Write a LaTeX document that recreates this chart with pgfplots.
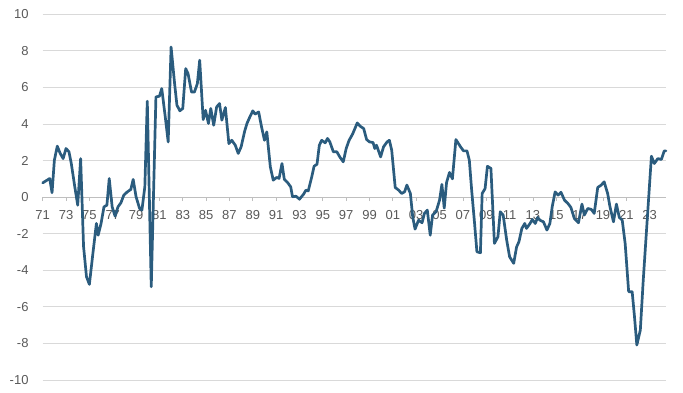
\documentclass[border=0pt]{standalone}
\usepackage{pgfplots}
\pgfplotsset{compat=1.18}
\usepackage{fontspec}
\setmainfont{Liberation Sans}
\definecolor{linec}{HTML}{2B5C7E}
\definecolor{gridc}{HTML}{D9D9D9}
\definecolor{axisc}{HTML}{BFBFBF}
\definecolor{labc}{HTML}{595959}
\begin{document}
\begin{tikzpicture}
\path (0,0) rectangle (683pt,393pt);
\begin{axis}[
  at={(42.7pt,13pt)}, anchor=south west,
  scale only axis, width=623.3pt, height=365.7pt,
  set layers,
  xmin=1971, xmax=2024.4, ymin=-10, ymax=10,
  axis x line=middle, axis y line=left,
  hide obscured x ticks=false,
  axis line style={-},
  x axis line style={draw=axisc, line width=0.8pt},
  y axis line style={draw=none},
  ytick={-10,-8,...,10},
  ymajorgrids, grid style={gridc, line width=0.8pt},
  ytick style={draw=none},
  xtick={1971,1973,...,2023},
  xticklabels={71,73,75,77,79,81,83,85,87,89,91,93,95,97,99,01,03,05,07,09,11,13,15,17,19,21,23},
  xtick style={draw=axisc, line width=0.8pt},
  xtick align=outside, major tick length=4pt,
  tick label style={font=\fontsize{13}{15}\selectfont, text=labc},
  xticklabel style={anchor=north, yshift=-6pt},
  yticklabel style={anchor=east, inner sep=0pt, xshift=-12pt},
  /pgf/number format/assume math mode=true,
  clip=false,
]
\addplot[color=linec, line width=2.7pt, line join=round, line cap=round] coordinates {
(1971.0,0.78)(1971.3,0.90)(1971.6,1.02)(1971.8,0.24)(1972.0,2.02)(1972.25,2.79)
(1972.5,2.39)(1972.75,2.11)(1973.0,2.66)(1973.25,2.48)(1973.45,1.84)(1973.75,0.56)
(1974.0,-0.44)(1974.25,2.11)(1974.5,-2.7)(1974.75,-4.35)(1975.0,-4.77)(1975.3,-3.08)
(1975.6,-1.44)(1975.75,-2.08)(1976.0,-1.44)(1976.25,-0.53)(1976.5,-0.44)(1976.7,1.02)
(1976.95,-0.53)(1977.2,-1.04)(1977.45,-0.53)(1977.7,-0.31)(1977.95,0.11)(1978.25,0.29)
(1978.55,0.42)(1978.75,0.97)(1979.0,0.02)(1979.3,-0.62)(1979.5,-0.71)(1979.75,0.56)
(1979.96,5.25)(1980.3,-4.9)(1980.7,5.48)(1981.0,5.52)(1981.2,5.94)(1981.5,4.39)
(1981.75,3.02)(1982.0,8.21)(1982.3,6.21)(1982.5,5.03)(1982.75,4.72)(1983.0,4.85)
(1983.25,7.03)(1983.45,6.76)(1983.75,5.75)(1984.0,5.75)(1984.25,6.21)(1984.45,7.49)
(1984.75,4.24)(1984.95,4.75)(1985.2,4.03)(1985.4,4.85)(1985.65,3.93)(1985.9,4.93)
(1986.15,5.12)(1986.35,4.21)(1986.65,4.9)(1986.95,2.93)(1987.2,3.11)(1987.5,2.84)
(1987.75,2.39)(1988.0,2.75)(1988.3,3.6)(1988.5,4.03)(1988.75,4.39)(1989.0,4.72)
(1989.2,4.54)(1989.5,4.66)(1989.75,3.84)(1990.0,3.11)(1990.2,3.57)(1990.5,1.66)
(1990.75,0.93)(1991.05,1.08)(1991.25,1.02)(1991.5,1.84)(1991.7,0.97)(1992.0,0.78)
(1992.25,0.56)(1992.4,0.02)(1992.7,0.05)(1993.0,-0.11)(1993.35,0.16)(1993.55,0.38)
(1993.75,0.34)(1994.05,1.11)(1994.25,1.69)(1994.5,1.8)(1994.7,2.84)(1994.9,3.11)
(1995.2,2.97)(1995.4,3.21)(1995.6,3.02)(1995.9,2.48)(1996.2,2.48)(1996.45,2.2)
(1996.75,1.93)(1997.0,2.66)(1997.25,3.11)(1997.55,3.45)(1997.95,4.06)(1998.2,3.88)
(1998.5,3.75)(1998.75,3.15)(1999.0,3.02)(1999.3,2.99)(1999.45,2.66)(1999.6,2.84)
(1999.75,2.57)(1999.95,2.2)(2000.2,2.75)(2000.5,3.02)(2000.7,3.11)(2000.9,2.57)
(2001.2,0.53)(2001.5,0.38)(2001.75,0.2)(2002.0,0.29)(2002.2,0.66)(2002.5,0.2)
(2002.7,-1.08)(2002.9,-1.75)(2003.2,-1.26)(2003.5,-1.4)(2003.7,-0.89)(2003.95,-0.71)
(2004.2,-2.08)(2004.4,-0.98)(2004.7,-0.8)(2005.0,-0.16)(2005.2,0.7)(2005.4,-0.6)
(2005.6,0.8)(2005.85,1.35)(2006.1,1.0)(2006.4,3.15)(2006.8,2.75)(2007.05,2.53)
(2007.35,2.53)(2007.55,2.02)(2007.75,0.38)(2008.0,-1.44)(2008.2,-2.99)(2008.5,-3.04)
(2008.65,0.2)(2008.9,0.47)(2009.1,1.69)(2009.4,1.57)(2009.7,-2.53)(2010.0,-2.17)
(2010.2,-0.8)(2010.45,-0.98)(2010.75,-2.35)(2011.0,-3.26)(2011.35,-3.62)(2011.6,-2.72)
(2011.8,-2.44)(2012.05,-1.71)(2012.3,-1.44)(2012.45,-1.71)(2012.75,-1.44)(2012.95,-1.22)
(2013.2,-1.44)(2013.4,-1.11)(2013.6,-1.26)(2013.9,-1.35)(2014.2,-1.8)(2014.45,-1.44)
(2014.65,-0.53)(2014.9,0.29)(2015.15,0.11)(2015.4,0.27)(2015.7,-0.16)(2016.0,-0.35)
(2016.25,-0.56)(2016.55,-1.17)(2016.9,-1.4)(2017.2,-0.38)(2017.4,-0.98)(2017.7,-0.62)
(2018.0,-0.67)(2018.25,-0.89)(2018.55,0.53)(2018.85,0.66)(2019.1,0.84)(2019.4,0.2)
(2019.6,-0.53)(2019.9,-1.35)(2020.15,-0.38)(2020.4,-1.11)(2020.65,-1.26)(2020.9,-2.53)
(2021.2,-5.17)(2021.5,-5.17)(2021.7,-6.54)(2021.9,-8.09)(2022.2,-7.27)(2022.45,-4.54)
(2022.75,-1.62)(2023.15,2.24)(2023.4,1.84)(2023.7,2.11)(2024.0,2.06)(2024.25,2.53)
(2024.4,2.53)
};
\end{axis}
\end{tikzpicture}
\end{document}
